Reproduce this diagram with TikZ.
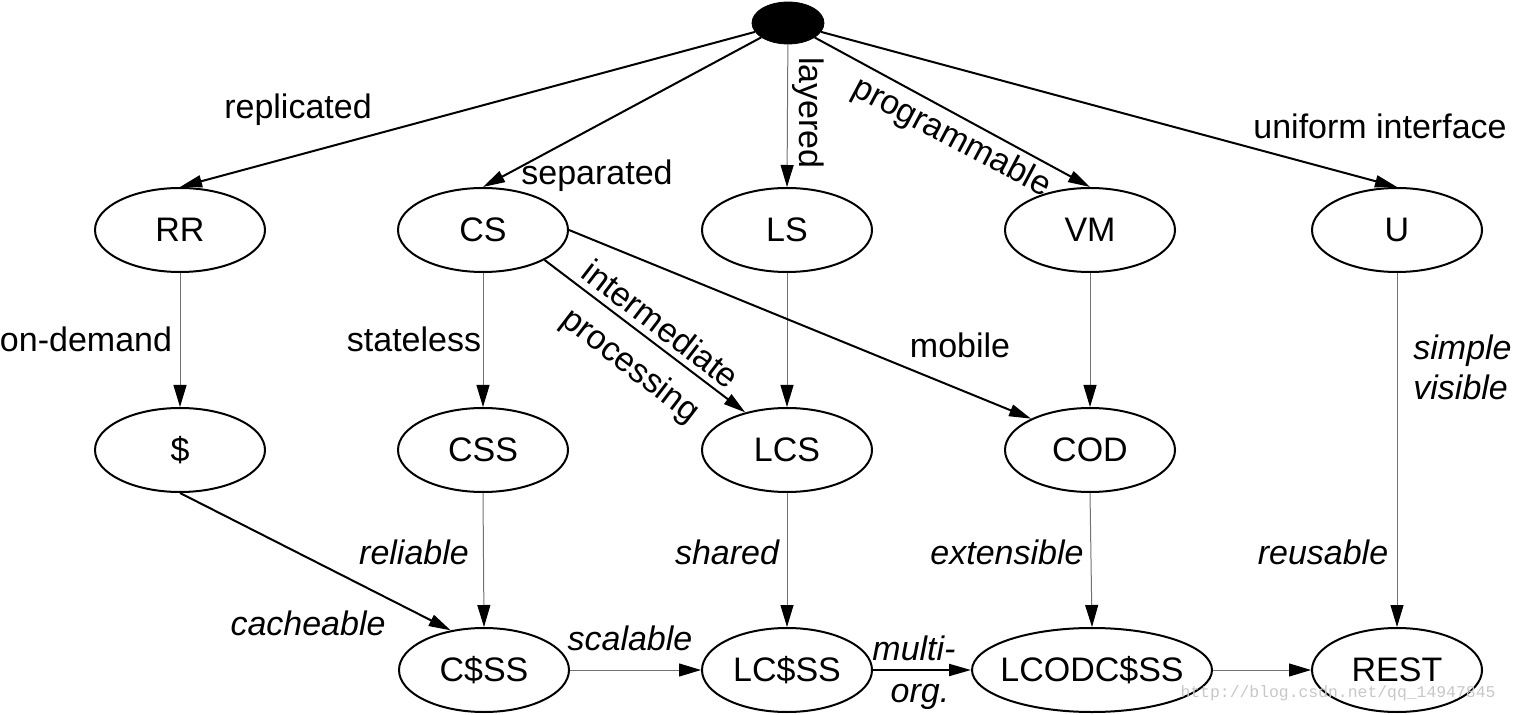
\documentclass[tikz,border=0pt]{standalone}
\usepackage{fontspec}
\setmainfont{Liberation Sans}
\newfontfamily\wmfont{Liberation Mono}
\usetikzlibrary{arrows.meta,shapes.geometric}
\begin{document}
\begin{tikzpicture}[x=0.5pt,y=-0.5pt,
  every node/.style={font=\fontsize{17pt}{20pt}\selectfont},
  st/.style={draw=black,line width=1pt,ellipse,minimum width=85pt,minimum height=42pt,inner sep=0pt},
  wide/.style={minimum width=120pt},
  thickedge/.style={line width=1pt,-{Triangle[length=11pt,width=6pt]}},
  thinedge/.style={draw=black!55,line width=0.5pt,-{Triangle[length=11pt,width=6.5pt,color=black]}},
  lab/.style={inner sep=0pt,text height=12pt,text depth=0pt},
  ilab/.style={lab,font=\fontsize{17pt}{20pt}\selectfont\itshape}]
\useasboundingbox (0,0) rectangle (1513,715);
% nodes
\node[ellipse,fill=black,draw=black,minimum width=36pt,minimum height=21pt,inner sep=0pt] (top) at (788,23) {};
\node[st] (RR) at (180,230) {RR};
\node[st] (CS) at (483,230) {CS};
\node[st] (LS) at (787,230) {LS};
\node[st] (VM) at (1090,230) {VM};
\node[st] (U) at (1397,230) {U};
\node[st] (D) at (180,450) {\$};
\node[st] (CSS) at (483,450) {CSS};
\node[st] (LCS) at (787,450) {LCS};
\node[st] (COD) at (1090,450) {COD};
\node[st] (CDSS) at (484,670) {C\$SS};
\node[st] (LCDSS) at (787,670) {LC\$SS};
\node[st,wide] (LCODCDSS) at (1092,670) {\makebox[0pt]{LCODC\$SS}};
\node[st] (REST) at (1397,670) {REST};
% edges
\draw[thickedge] (top) -- (RR.north);
\draw[thickedge] (top) -- (CS.north);
\draw[thinedge] (top) -- (LS.north);
\draw[thickedge] (top) -- (VM.north);
\draw[thickedge] (top) -- (U.north);
\draw[thinedge] (RR.south) -- (D.north);
\draw[thinedge] (CS.south) -- (CSS.north);
\draw[thinedge] (LS.south) -- (LCS.north);
\draw[thinedge] (VM.south) -- (COD.north);
\draw[thinedge] (U.south) -- (REST.north);
\draw[thickedge] (CS.-26) -- (LCS.138);
\draw[thickedge] (CS.east) -- (COD.152);
\draw[thickedge] (D.south) -- (CDSS.130);
\draw[thinedge] (CSS.south) -- (CDSS.north);
\draw[thinedge] (LCS.south) -- (LCDSS.north);
\draw[thinedge] (COD.south) -- (LCODCDSS.north);
\draw[thinedge] (CDSS.east) -- (LCDSS.west);
\draw[thickedge] (LCDSS.east) -- (LCODCDSS.west);
\draw[thinedge] (LCODCDSS.east) -- (REST.west);
% labels
\node[lab] (l1) at (298,107) {replicated};
\node[lab] (l2) at (597,173) {separated};
\node[lab,rotate=-90] (l3) at (811,113) {layered};
\node[lab,rotate=-28] (l4) at (953,135) {programmable};
\node[lab] (l5) at (1380,127) {uniform interface};
\node[lab] (l6) at (86,340) {on-demand};
\node[lab] (l7) at (414,340) {stateless};
\node[lab,rotate=-37.5] (l8) at (661,324) {intermediate};
\node[lab,rotate=-37.5] (l9) at (632,364) {processing};
\node[lab] (l10) at (960,346) {mobile};
\node[ilab,anchor=west] (l11) at (1413,348) {simple};
\node[ilab,anchor=west] (l12) at (1413,388) {visible};
\node[ilab] (l13) at (414,552) {reliable};
\node[ilab] (l14) at (727,552) {shared};
\node[ilab] (l15) at (1007,552) {extensible};
\node[ilab] (l16) at (1323,552) {reusable};
\node[ilab] (l17) at (308,623) {cacheable};
\node[ilab] (l18) at (630,638) {scalable};
\node[ilab] (l19) at (914,648) {multi-};
\node[ilab] (l20) at (920,690) {org.};
\node[inner sep=0pt,text=black!22,font=\wmfont\fontsize{8.2pt}{10pt}\selectfont] (wm) at (1338,693) {http://blog.csdn.net/qq\_14947845};
\end{tikzpicture}
\end{document}
